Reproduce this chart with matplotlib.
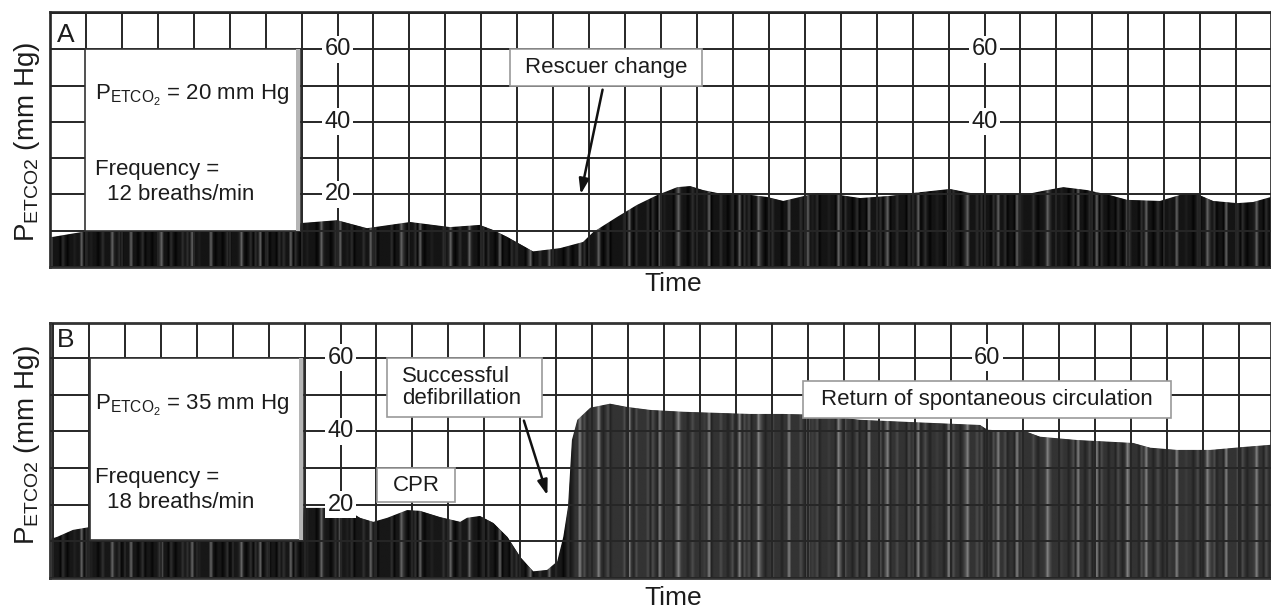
import numpy as np
import matplotlib
matplotlib.use("Agg")
import matplotlib.pyplot as plt
from matplotlib.patches import Rectangle
from matplotlib.ticker import MultipleLocator

plt.rcParams['font.family'] = 'Liberation Sans'
plt.rcParams['mathtext.fontset'] = 'custom'
plt.rcParams['mathtext.rm'] = 'Liberation Sans'
plt.rcParams['mathtext.it'] = 'Liberation Sans'

# capnogram envelope, panel A (time in grid squares, PETCO2 in mm Hg)
a_time = [0, 0.08, 0.92, 1.5, 6.95, 6.97, 7.99, 8.82, 10.02, 11.13, 11.96, 12.33,
          12.72, 13.44, 14.19, 14.83, 15.11, 15.78, 16.33, 16.89, 17.45, 17.81,
          18.17, 18.56, 19.28, 19.95, 20.40, 20.87, 21.34, 21.79, 22.54, 23.37,
          24.01, 25.04, 25.60, 26.24, 27.18, 27.74, 28.19, 28.85, 29.49, 29.97,
          30.88, 31.25, 31.52, 31.91, 32.36, 33.03, 33.47, 33.97]
a_co2 = [8.3, 8.3, 9.7, 10.2, 10.2, 12.1, 12.9, 10.7, 12.4, 11.0, 11.6, 10.2,
         8.3, 4.3, 5.2, 6.9, 9.6, 13.8, 17.1, 19.8, 22.0, 22.3,
         21.2, 20.4, 20.1, 19.3, 18.2, 19.3, 20.4, 20.1, 19.0, 19.6,
         20.4, 21.5, 20.4, 20.1, 20.1, 21.2, 22.0, 21.2, 19.8, 18.5,
         18.2, 19.3, 20.1, 20.1, 18.2, 17.6, 17.9, 19.3]

# panel B: CPR, defibrillation, return of spontaneous circulation
b_time = [-0.09, 0.11, 0.55, 1.03, 6.95, 6.97, 7.63, 8.18, 8.54, 8.91, 9.30, 9.85,
          10.21, 10.77, 11.33, 11.52, 11.88, 12.25, 12.64, 13.00, 13.36, 13.75,
          14.03, 14.20, 14.33, 14.44, 14.59, 14.95, 15.50, 15.98, 16.62, 17.54,
          18.48, 19.40, 20.32, 21.27, 22.46, 23.86, 25.80, 26.00, 27.11, 27.47,
          28.50, 30.06, 30.54, 31.29, 32.21, 33.13, 33.9]
b_co2 = [10.6, 11.2, 13.1, 13.9, 14.0, 19.1, 19.1, 18.5, 16.4, 15.3, 16.4, 18.5,
         18.3, 16.6, 15.3, 16.4, 16.9, 15.0, 11.2, 5.7, 1.8, 2.2,
         4.5, 11.2, 19.4, 37.6, 43.1, 46.4, 47.5, 46.6, 45.8, 45.3,
         45.0, 44.7, 44.7, 44.5, 43.1, 42.5, 41.7, 40.4, 39.8, 38.5,
         37.6, 36.8, 35.5, 34.9, 34.9, 35.7, 36.3]

scale_a = [60, 40, 20]
scale_b = [60, 40, 20]
scale_a2 = [60, 40]
scale_b2 = [60]

GRID = '#262626'
INK = '#1c1c1c'


def stripes(xlim, base_left, base_right, split, n=520):
    # vertical streak texture of the strip-chart recording
    k = np.arange(n)
    xs = np.linspace(xlim[0], xlim[1], n)
    base = np.where(xs < split, base_left, base_right)
    ph1 = (k * 0.6180339887) % 1.0
    ph2 = (k * 0.4142135624) % 1.0
    ph3 = (k * 0.3027756377) % 1.0
    tex = base.copy()
    tex = tex + 0.10 * (ph2 < 0.22)
    tex = tex - 0.06 * (ph3 < 0.25)
    tex = np.where(ph1 < 0.09, base + 0.30, tex)
    return np.clip(tex, 0, 1)[np.newaxis, :]


def panel(ax, t, v, xlim, ylim, base_left, base_right, split):
    ax.set_xlim(*xlim)
    ax.set_ylim(*ylim)
    poly = ax.fill_between(t, 0, v, color='#151515', lw=0, zorder=1)
    im = ax.imshow(stripes(xlim, base_left, base_right, split),
                   extent=[xlim[0], xlim[1], 0, ylim[1]],
                   aspect='auto', cmap='gray', vmin=0, vmax=1,
                   interpolation='bilinear', zorder=1.2)
    im.set_clip_path(poly.get_paths()[0], transform=ax.transData)
    ax.set_xlim(*xlim)
    ax.set_ylim(*ylim)
    ax.xaxis.set_major_locator(MultipleLocator(1))
    ax.yaxis.set_major_locator(MultipleLocator(10))
    ax.set_axisbelow(False)
    ax.grid(True, color=GRID, lw=1.4)
    ax.tick_params(length=0, labelbottom=False, labelleft=False)
    for s in ax.spines.values():
        s.set_color('#333333')
        s.set_linewidth(2)


def scale(ax, x, vals):
    for val in vals:
        ax.text(x, val, str(val), ha='center', va='center', fontsize=17,
                color=INK, zorder=4,
                bbox=dict(boxstyle='square,pad=0.1', fc='white', ec='none'))


def info_box(ax, x0, x1, y0, y1):
    ax.add_patch(Rectangle((x0, y0), x1 - x0, y1 - y0, fc='white', ec='#333333',
                           lw=1.2, zorder=3))
    ax.add_patch(Rectangle((x1 - 0.12, y0), 0.12, y1 - y0, fc='#b5b5b5', ec='none',
                           zorder=3.1))


def label_box(ax, x0, x1, y0, y1):
    ax.add_patch(Rectangle((x0, y0), x1 - x0, y1 - y0, fc='white', ec='#999999',
                           lw=1.2, zorder=5))


fig = plt.figure(figsize=(12.71, 6.12), dpi=100)
axA = fig.add_axes([0.0393, 0.5637, 0.9607, 0.4167])
axB = fig.add_axes([0.0393, 0.0556, 0.9607, 0.4167])

# ---- panel A ----
panel(axA, a_time, a_co2, (0, 33.97), (0, 70.25), 0.08, 0.08, 99)
info_box(axA, 0.97, 6.96, 10, 60)
scale(axA, 8, scale_a)
scale(axA, 26, scale_a2)
axA.text(0.19, 62.0, 'A', fontsize=19, color=INK, zorder=4)
axA.text(1.25, 46.0, r'P$_{\mathrm{ETCO_2}}$ = 20 mm Hg', fontsize=16, color=INK,
         va='baseline', zorder=4)
axA.text(1.25, 25.3, 'Frequency =', fontsize=16, color=INK, va='baseline', zorder=4)
axA.text(1.58, 18.5, '12 breaths/min', fontsize=16, color=INK, va='baseline', zorder=4)
label_box(axA, 12.80, 18.14, 49.9, 60.1)
axA.text(15.47, 55.0, 'Rescuer change', fontsize=16, color=INK, ha='center',
         va='center', zorder=6)
axA.annotate('', xy=(14.75, 19.3), xytext=(15.39, 49.6), zorder=6,
             arrowprops=dict(arrowstyle='-|>,head_length=0.9,head_width=0.3',
                             color='#111111', lw=1.8))

# ---- panel B ----
panel(axB, b_time, b_co2, (-0.09, 33.9), (0, 69.5), 0.09, 0.2, 14.4)
info_box(axB, 1.03, 6.96, 10.4, 60)
scale(axB, 8, scale_b)
scale(axB, 26, scale_b2)
axB.text(0.11, 63.0, 'B', fontsize=19, color=INK, zorder=4)
axB.text(1.17, 45.8, r'P$_{\mathrm{ETCO_2}}$ = 35 mm Hg', fontsize=16, color=INK,
         va='baseline', zorder=4)
axB.text(1.17, 25.9, 'Frequency =', fontsize=16, color=INK, va='baseline', zorder=4)
axB.text(1.50, 19.1, '18 breaths/min', fontsize=16, color=INK, va='baseline', zorder=4)

label_box(axB, 9.30, 13.61, 43.9, 60.0)
axB.text(9.7, 51.9, 'Successful\ndefibrillation', fontsize=16, color=INK,
         ha='left', va='center', linespacing=1.05, zorder=6)
axB.annotate('', xy=(13.78, 21.8), xytext=(13.08, 43.6), zorder=6,
             arrowprops=dict(arrowstyle='-|>,head_length=0.9,head_width=0.3',
                             color='#111111', lw=1.8))
label_box(axB, 9.02, 11.19, 20.7, 30.0)
axB.text(10.1, 25.2, 'CPR', fontsize=16, color=INK, ha='center', va='center', zorder=6)
label_box(axB, 20.88, 31.12, 43.6, 53.7)
axB.text(26.0, 48.6, 'Return of spontaneous circulation', fontsize=16, color=INK,
         ha='center', va='center', zorder=6)

# axis titles
for yc in (1 - 142 / 612, 1 - 445 / 612):
    fig.text(27 / 1271, yc, r'P$_{\mathrm{ETCO2}}$ (mm Hg)', rotation=90, fontsize=20,
             color=INK, ha='center', va='center')
for yc in (1 - 284 / 612, 1 - 598 / 612):
    fig.text(673 / 1271, yc, 'Time', fontsize=19, color=INK, ha='center', va='center')

fig.savefig('out.png', dpi=100)
